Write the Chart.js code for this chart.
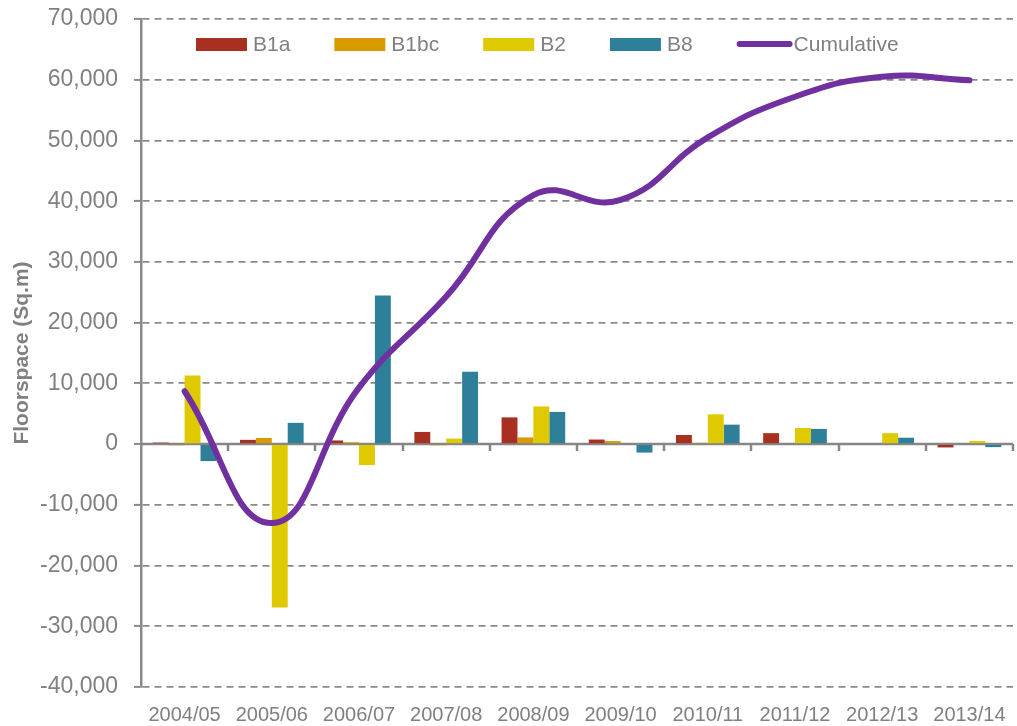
<!DOCTYPE html>
<html>
<head>
<meta charset="utf-8">
<script src="https://cdn.jsdelivr.net/npm/chart.js@4.4.0/dist/chart.umd.min.js"></script>
<style>
    html, body { margin: 0; padding: 0; background: #fff; }
    #wrap { width: 1017px; height: 726px; position: relative; }
</style>
</head>
<body>
<div id="wrap"><canvas id="floorspaceChart"></canvas></div>
<script>
// Floorspace change by use class, with cumulative total
const years = ['2004/05', '2005/06', '2006/07', '2007/08', '2008/09', '2009/10', '2010/11', '2011/12', '2012/13', '2013/14'];
const b1a = [250, 700, 600, 2000, 4400, 750, 1500, 1800, 150, -550];
const b1bc = [-200, 1000, 300, -200, 1100, 500, 200, 150, 0, 0];
const b2 = [11300, -26900, -3450, 900, 6200, 0, 4900, 2650, 1800, 500];
const b8 = [-2800, 3500, 24450, 11900, 5300, -1400, 3200, 2500, 1050, -500];
const cumulative = [8700, -13000, 9300, 24300, 41000, 40200, 50500, 57200, 60500, 59900];

const yMin = -40000;
const yMax = 70000;
const yStep = 10000;

const gray = '#808080';
const fontFamily = "'Liberation Sans', Arial, sans-serif";

// Solid zero line plus small category ticks hanging below it
const zeroLinePlugin = {
    id: 'zeroLine',
    beforeDatasetsDraw(chart) {
        const ctx = chart.ctx;
        const x = chart.scales.x;
        const y = chart.scales.y;
        const y0 = y.getPixelForValue(0);
        ctx.save();
        ctx.strokeStyle = '#868686';
        ctx.lineWidth = 2.5;
        ctx.beginPath();
        ctx.moveTo(x.left, y0);
        ctx.lineTo(x.right, y0);
        const step = (x.right - x.left) / years.length;
        for (let i = 1; i <= years.length; i++) {
            const px = Math.round(x.left + step * i);
            ctx.moveTo(px, y0);
            ctx.lineTo(px, y0 + 7);
        }
        ctx.stroke();
        ctx.restore();
    }
};

// Rotated y axis title, drawn over the tick column like the original
const axisTitlePlugin = {
    id: 'axisTitle',
    afterDraw(chart) {
        const ctx = chart.ctx;
        const area = chart.chartArea;
        ctx.save();
        ctx.translate(22, (area.top + area.bottom) / 2);
        ctx.rotate(-Math.PI / 2);
        ctx.font = `bold 21px ${fontFamily}`;
        ctx.fillStyle = gray;
        ctx.textAlign = 'center';
        ctx.textBaseline = 'middle';
        ctx.fillText('Floorspace (Sq.m)', 0, 0);
        ctx.restore();
    }
};

// Legend sits inside the plot area, left of centre
const legendPlugin = {
    id: 'insideLegend',
    afterDraw(chart) {
        const ctx = chart.ctx;
        const cy = 44;
        let x = 196;
        ctx.save();
        ctx.font = `21px ${fontFamily}`;
        ctx.textBaseline = 'middle';
        ctx.textAlign = 'left';
        chart.data.datasets.forEach(ds => {
            if (ds.type === 'line') {
                ctx.strokeStyle = ds.borderColor;
                ctx.lineWidth = 6;
                ctx.lineCap = 'round';
                ctx.beginPath();
                ctx.moveTo(x + 3, cy);
                ctx.lineTo(x + 53, cy);
                ctx.stroke();
            } else {
                ctx.fillStyle = ds.backgroundColor;
                ctx.fillRect(x, cy - 6, 51, 13);
            }
            x += 57;
            ctx.fillStyle = gray;
            ctx.fillText(ds.label, x, cy + 1);
            x += ctx.measureText(ds.label).width + 44;
        });
        ctx.restore();
    }
};

const ctx = document.getElementById('floorspaceChart');

new Chart(ctx, {
    type: 'bar',
    data: {
        labels: years,
        datasets: [
            { label: 'B1a', data: b1a, backgroundColor: '#A93020', order: 1 },
            { label: 'B1bc', data: b1bc, backgroundColor: '#D99A00', order: 1 },
            { label: 'B2', data: b2, backgroundColor: '#DFC900', order: 1 },
            { label: 'B8', data: b8, backgroundColor: '#2E7F99', order: 1 },
            {
                type: 'line',
                label: 'Cumulative',
                data: cumulative,
                borderColor: '#7030A0',
                backgroundColor: '#7030A0',
                borderWidth: 6,
                borderCapStyle: 'round',
                pointRadius: 0,
                tension: 0.45,
                fill: false,
                order: 0
            }
        ]
    },
    options: {
        responsive: true,
        maintainAspectRatio: false,
        animation: false,
        layout: {
            padding: { top: 19, right: 4, left: 0, bottom: 0 }
        },
        datasets: {
            bar: {
                categoryPercentage: 0.73,
                barPercentage: 1.0,
                borderWidth: 0
            }
        },
        plugins: {
            legend: { display: false },
            tooltip: { enabled: false }
        },
        scales: {
            x: {
                grid: { display: false, drawTicks: false },
                border: { display: false },
                ticks: {
                    color: gray,
                    font: { family: fontFamily, size: 20 },
                    padding: 16,
                    maxRotation: 0,
                    autoSkip: false
                },
                afterFit(scale) {
                    scale.height = 39;
                    scale.paddingLeft = 0;
                    scale.paddingRight = 0;
                }
            },
            y: {
                min: yMin,
                max: yMax,
                ticks: {
                    stepSize: yStep,
                    color: gray,
                    font: { family: fontFamily, size: 23 },
                    padding: 16,
                    callback: v => v.toLocaleString('en-US')
                },
                grid: {
                    color: '#8a8a8a',
                    lineWidth: 1.8,
                    drawTicks: true,
                    tickLength: 7,
                    tickColor: '#8a8a8a',
                    tickWidth: 2
                },
                border: {
                    display: true,
                    color: '#8a8a8a',
                    width: 2.5,
                    dash: [7, 5]
                },
                afterFit(scale) {
                    scale.width = 141;
                    scale.paddingTop = 0;
                    scale.paddingBottom = 0;
                }
            }
        }
    },
    plugins: [zeroLinePlugin, axisTitlePlugin, legendPlugin]
});
</script>
</body>
</html>
